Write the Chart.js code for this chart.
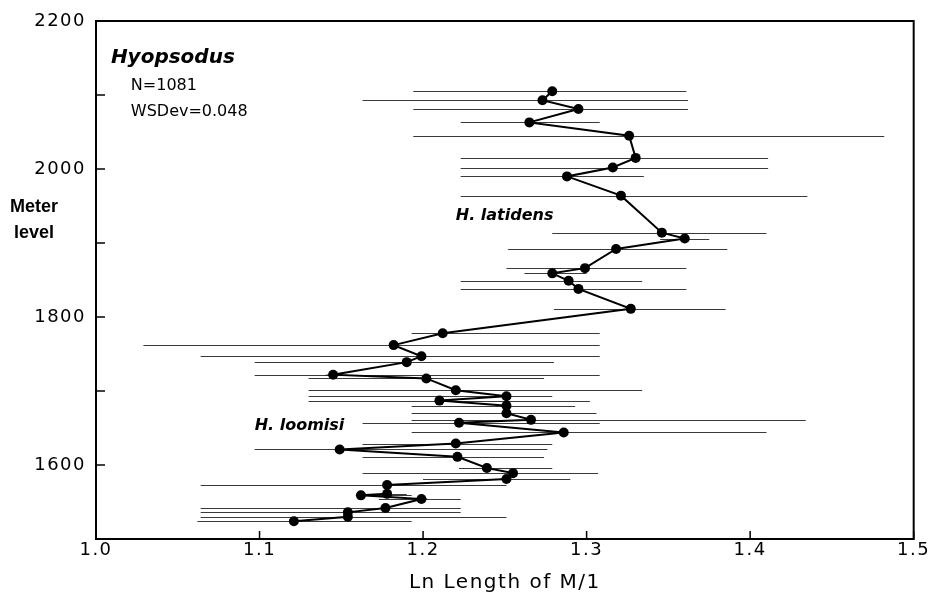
<!DOCTYPE html>
<html><head><meta charset="utf-8">
<script src="https://cdn.jsdelivr.net/npm/chart.js@4"></script>
<style>html,body{margin:0;padding:0;background:#fff}#wrap{width:929px;height:605px;position:relative;background:#fff}</style>
</head><body><div id="wrap"><canvas id="c" width="929" height="605"></canvas></div>
<script>
// ---- data ----
const meterLevels = [2105,2093,2081,2063,2045,2015,2002,1990,1964,1914,1906,1892,1866,1859,1849,1838,1811,1778,1762,1747,1739,1722,1717,1701,1693,1687,1680,1670,1661,1657,1644,1629,1621,1611,1596,1589,1581,1573,1561,1559,1554,1542,1536,1530,1524];
const meanLn = [1.279,1.273,1.295,1.265,1.326,1.330,1.316,1.288,1.321,1.346,1.360,1.318,1.299,1.279,1.289,1.295,1.327,1.212,1.182,1.199,1.190,1.145,1.202,1.220,1.251,1.210,1.251,1.251,1.266,1.222,1.286,1.220,1.149,1.221,1.239,1.255,1.251,1.178,1.178,1.162,1.199,1.177,1.154,1.154,1.121];
const lowLn = [1.194,1.163,1.194,1.223,1.194,1.223,1.223,1.223,1.223,1.279,1.345,1.252,1.251,1.262,1.223,1.223,1.280,1.193,1.029,1.064,1.097,1.097,1.130,1.130,1.130,1.130,1.193,1.193,1.193,1.163,1.193,1.163,1.097,1.163,1.222,1.163,1.200,1.064,1.168,1.162,1.173,1.064,1.064,1.064,1.062];
const highLn = [1.361,1.362,1.362,1.308,1.482,1.411,1.411,1.335,1.435,1.410,1.375,1.386,1.361,1.300,1.334,1.361,1.385,1.308,1.308,1.308,1.280,1.308,1.274,1.334,1.279,1.302,1.293,1.306,1.434,1.308,1.410,1.279,1.276,1.274,1.279,1.307,1.290,1.251,1.190,1.193,1.223,1.223,1.223,1.251,1.193];
const xTickValues = [1.0,1.1,1.2,1.3,1.4,1.5];
const yTickValues = [1500,1600,1700,1800,1900,2000,2100,2200];
const yLabelValues = [1600,1800,2000,2200];
const xTitle = 'Ln Length of M/1';
const yTitleLines = ['Meter','level'];
const annotations = [
  {text:'Hyopsodus', x:1.0091, y:2143, font:'italic bold 20px "DejaVu Sans"'},
  {text:'N=1081', x:1.0213, y:2107, font:'16px "DejaVu Sans"'},
  {text:'WSDev=0.048', x:1.0213, y:2072, font:'16px "DejaVu Sans"'},
  {text:'H. latidens', x:1.220, y:1931, font:'italic bold 16px "DejaVu Sans"'},
  {text:'H. loomisi', x:1.097, y:1647, font:'italic bold 16px "DejaVu Sans"'}
];

const points = meanLn.map((v,i)=>({x:v, y:meterLevels[i]}));

const spacingPlugin = {
  id:'spacing',
  beforeDraw(chart){ chart.ctx.letterSpacing = '1.5px'; }
};

const errorBars = {
  id:'errorBars',
  beforeDatasetsDraw(chart){
    const {ctx, scales:{x,y}} = chart;
    ctx.save();
    ctx.strokeStyle = '#3a3a3a';
    ctx.lineWidth = 1;
    meterLevels.forEach((m,i)=>{
      const py = Math.round(y.getPixelForValue(m)) + 0.5;
      ctx.beginPath();
      ctx.moveTo(x.getPixelForValue(lowLn[i]), py);
      ctx.lineTo(x.getPixelForValue(highLn[i]), py);
      ctx.stroke();
    });
    ctx.restore();
  }
};

const frameAndText = {
  id:'frameAndText',
  afterDraw(chart){
    const {ctx, chartArea:a, scales:{x,y}} = chart;
    ctx.save();
    ctx.strokeStyle = '#000';
    ctx.lineWidth = 2;
    ctx.strokeRect(a.left, a.top, a.right-a.left, a.bottom-a.top);
    ctx.lineWidth = 1.5;
    yTickValues.forEach(v=>{
      const py = y.getPixelForValue(v);
      ctx.beginPath(); ctx.moveTo(a.left, py); ctx.lineTo(a.left+9, py); ctx.stroke();
    });
    xTickValues.forEach(v=>{
      const px = x.getPixelForValue(v);
      ctx.beginPath(); ctx.moveTo(px, a.bottom); ctx.lineTo(px, a.bottom-8); ctx.stroke();
    });
    ctx.fillStyle = '#000';
    ctx.letterSpacing = '0px';
    ctx.textBaseline = 'alphabetic';
    ctx.textAlign = 'left';
    annotations.forEach(t=>{
      ctx.font = t.font;
      ctx.fillText(t.text, x.getPixelForValue(t.x), y.getPixelForValue(t.y));
    });
    ctx.font = 'bold 18px "Liberation Sans"';
    ctx.textAlign = 'center';
    ctx.fillText(yTitleLines[0], a.left-62, y.getPixelForValue(1942));
    ctx.fillText(yTitleLines[1], a.left-62, y.getPixelForValue(1907));
    ctx.restore();
  }
};

new Chart(document.getElementById('c'), {
  type:'scatter',
  data:{datasets:[{
    data: points,
    showLine:true,
    borderColor:'#000',
    borderWidth:2,
    backgroundColor:'#000',
    pointRadius:5,
    pointBorderWidth:0,
    pointBackgroundColor:'#000',
    tension:0
  }]},
  options:{
    responsive:false,
    animation:false,
    devicePixelRatio:1,
    layout:{padding:{top:21,right:14,left:0,bottom:0}},
    plugins:{legend:{display:false}, tooltip:{enabled:false}},
    scales:{
      x:{
        type:'linear', min:1.0, max:1.5,
        afterBuildTicks(s){ s.ticks = xTickValues.map(v=>({value:v})); },
        afterFit(s){ s.height = 66; },
        grid:{display:false, drawTicks:false},
        border:{display:false},
        ticks:{color:'#000', padding:1, font:{family:'DejaVu Sans', size:18}, callback:v=>Number(v).toFixed(1), maxRotation:0},
        title:{display:true, text:xTitle, color:'#000', font:{family:'DejaVu Sans', size:20}, padding:{top:0,bottom:10}}
      },
      y:{
        type:'linear', min:1500, max:2200,
        afterBuildTicks(s){ s.ticks = yTickValues.map(v=>({value:v})); },
        afterFit(s){ s.width = 96; },
        grid:{display:false, drawTicks:false},
        border:{display:false},
        ticks:{color:'#000', padding:10, font:{family:'DejaVu Sans', size:18}, callback:v=>yLabelValues.includes(v)?String(v):''}
      }
    }
  },
  plugins:[spacingPlugin, errorBars, frameAndText]
});
</script></body></html>
